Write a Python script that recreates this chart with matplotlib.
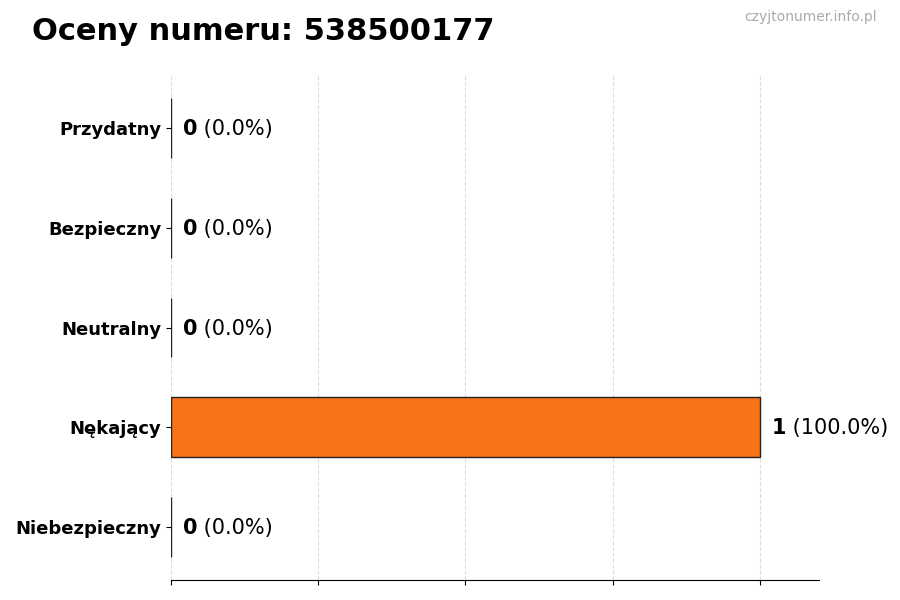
import matplotlib
matplotlib.use('Agg')
import matplotlib.pyplot as plt

categories = ['Niebezpieczny', 'Nękający', 'Neutralny', 'Bezpieczny', 'Przydatny']
counts = [0, 1, 0, 0, 0]
percents = [0.0, 100.0, 0.0, 0.0, 0.0]
number = '538500177'

fig = plt.figure(figsize=(9, 6), dpi=100)
ax = fig.add_axes([0.19, 0.0333, 0.7195, 0.8417])

ypos = range(len(categories))
ax.barh(ypos, counts, height=0.6, color='#f97316', edgecolor='#222222', linewidth=1, zorder=3)
ax.set_yticks(list(ypos))
ax.set_yticklabels(categories, fontsize=13, fontweight='bold')
ax.set_xlim(0, 1.1)
ax.set_xticks([0, 0.25, 0.5, 0.75, 1.0])
ax.set_xticklabels([])
ax.grid(axis='x', linestyle='--', color='#dddddd', linewidth=0.8, zorder=0)
for s in ['top', 'right', 'left']:
    ax.spines[s].set_visible(False)

for y, c, p in zip(ypos, counts, percents):
    t = ax.text(c + 0.02, y - 0.01, str(c), fontsize=15, fontweight='bold', va='center', ha='left')
    ax.annotate(' (%.1f%%)' % p, xy=(1, 0.5), xycoords=t, va='center', ha='left', fontsize=15)

fig.text(0.035, 0.947, 'Oceny numeru: ' + number, fontsize=22, fontweight='bold', va='center', ha='left')
fig.text(0.974, 0.971, 'czyjtonumer.info.pl', fontsize=10, color='#aaaaaa', va='center', ha='right')

fig.savefig('out.png', dpi=100)
